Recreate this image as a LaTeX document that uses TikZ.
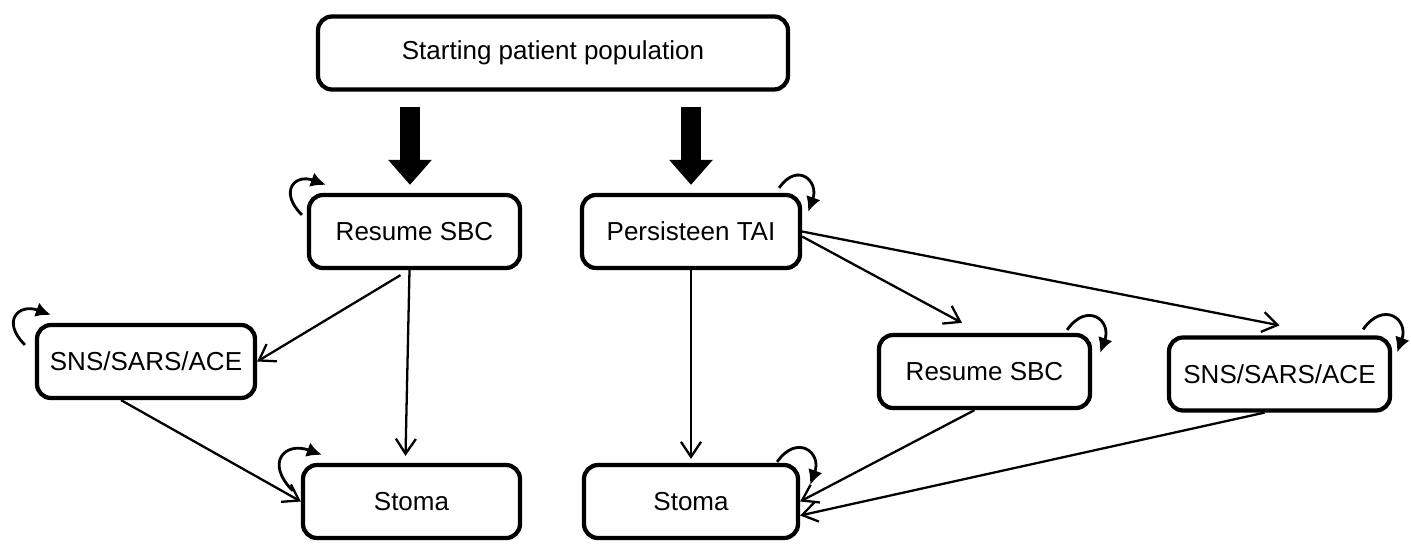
\documentclass[tikz,border=0pt]{standalone}
\usepackage{fontspec}
\setmainfont{Liberation Sans}
\usetikzlibrary{arrows.meta}

\begin{document}
\begin{tikzpicture}[
    box/.style={draw, line width=0.085cm, rounded corners=0.28cm, minimum height=1.46cm,
      font=\fontsize{14.8}{18}\selectfont},
    conn/.style={line width=1.3pt, -{Straight Barb[length=0.3cm,width=0.4cm]}},
    selfloop/.style={line width=1.6pt, -{Latex[length=0.3cm,width=0.3cm]}},
    bigarrow/.style={line width=0.4cm, -{Triangle[length=0.5cm,width=0.84cm]},
      shorten <=0.3cm, shorten >=0.16cm}]
    \useasboundingbox (0,0) rectangle (28.22,-10.9);
    \node[box, minimum width=9.4cm] (top) at (11.06,-1.06) {Starting patient population};
    \node[box, minimum width=4.22cm] (rl) at (8.29,-4.63) {Resume SBC};
    \node[box, minimum width=4.36cm] (pt) at (13.82,-4.63) {Persisteen TAI};
    \node[box, minimum width=4.36cm] (sl) at (2.92,-7.23) {SNS/SARS/ACE};
    \node[box, minimum width=4.34cm] (stl) at (8.23,-10.03) {Stoma};
    \node[box, minimum width=4.28cm] (str) at (13.82,-10.03) {Stoma};
    \node[box, minimum width=4.22cm] (rr) at (19.69,-7.43) {Resume SBC};
    \node[box, minimum width=4.42cm] (sr) at (25.59,-7.48) {SNS/SARS/ACE};

    \draw[bigarrow] ([xshift=-0.09cm]rl.north |- top.south) -- ([xshift=-0.09cm]rl.north);
    \draw[bigarrow] (pt.north |- top.south) -- (pt.north);

    \draw[conn] ([shift={(-0.28,-0.1)}]rl.south) -- (sl.east);
    \draw[conn] ([xshift=-0.1cm]rl.south) -- ([shift={(-0.12,0.14)}]stl.north);
    \draw[conn] ([xshift=-0.5cm]sl.south) -- (stl.west);
    \draw[conn] (pt.south) -- ([yshift=0.08cm]str.north);
    \draw[conn] ([yshift=-0.1cm]pt.east) -- ([shift={(-0.45,0.2)}]rr.north);
    \draw[conn] (pt.east) -- ([yshift=0.2cm]sr.north);
    \draw[conn] ([xshift=-0.2cm]rr.south) -- (str.east);
    \draw[conn] ([xshift=-0.3cm]sr.south) -- ([yshift=-0.28cm]str.east);

    \draw[selfloop] ([shift={(-0.1,-0.44)}]rl.north west) to[out=135, in=160, looseness=2.2] ([shift={(0.38,0.16)}]rl.north west);
    \draw[selfloop] ([shift={(-0.2,-0.44)}]sl.north west) to[out=135, in=160, looseness=2.2] ([shift={(0.32,0.16)}]sl.north west);
    \draw[selfloop] ([shift={(-0.16,-0.56)}]stl.north west) to[out=135, in=160, looseness=2.2] ([shift={(0.42,0.16)}]stl.north west);
    \draw[selfloop] ([shift={(-0.46,0.1)}]pt.north east) to[out=55, in=70, looseness=2.2] ([shift={(0.12,-0.38)}]pt.north east);
    \draw[selfloop] ([shift={(-0.5,0.06)}]rr.north east) to[out=55, in=70, looseness=2.2] ([shift={(0.16,-0.4)}]rr.north east);
    \draw[selfloop] ([shift={(-0.58,0.12)}]sr.north east) to[out=55, in=70, looseness=2.2] ([shift={(0.1,-0.34)}]sr.north east);
    \draw[selfloop] ([shift={(-0.46,0.02)}]str.north east) to[out=55, in=70, looseness=2.2] ([shift={(0.2,-0.44)}]str.north east);
\end{tikzpicture}
\end{document}
